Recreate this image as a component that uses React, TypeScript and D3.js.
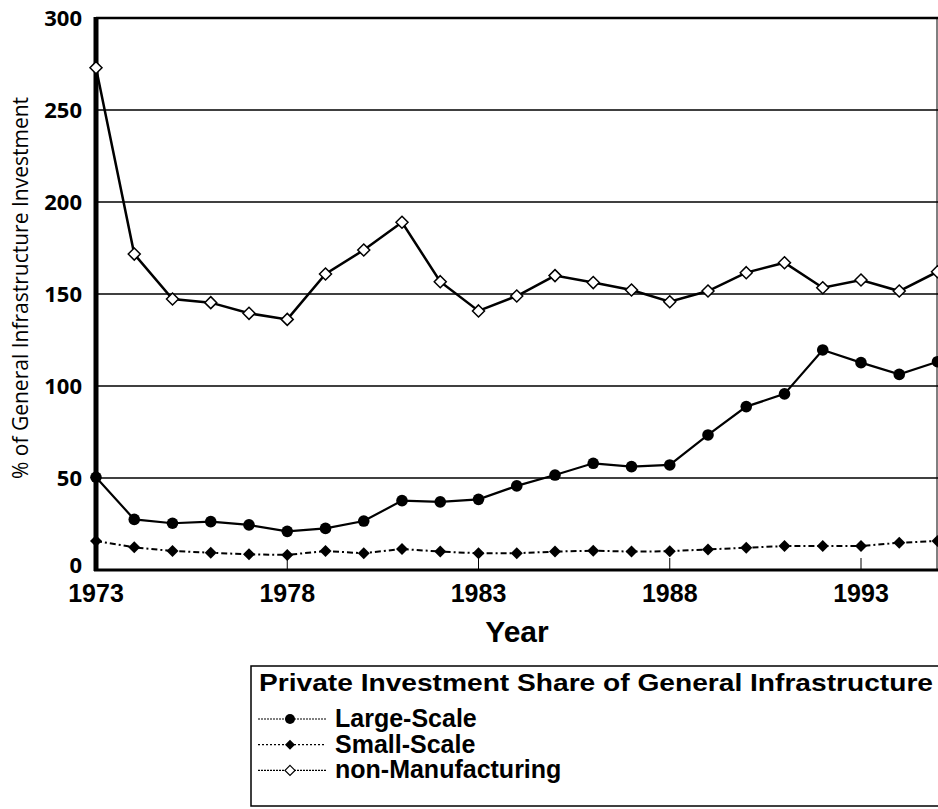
import React, { useRef, useEffect } from "react";
import * as d3 from "d3";

const years = [
  1973, 1974, 1975, 1976, 1977, 1978, 1979, 1980, 1981, 1982, 1983, 1984,
  1985, 1986, 1987, 1988, 1989, 1990, 1991, 1992, 1993, 1994, 1995,
];
const largeScale = [
  50.4, 27.5, 25.4, 26.3, 24.5, 21, 22.6, 26.6, 37.7, 37, 38.4, 45.7, 51.6, 58,
  56.2, 57.1, 73.4, 88.8, 95.7, 119.6, 112.7, 106.3, 113.2,
];
const smallScale = [
  15.8, 12.3, 10.3, 9.4, 8.5, 8.2, 10.3, 9.1, 11.4, 10, 9.1, 9.1, 10, 10.5, 10,
  10.2, 11.2, 12.1, 13, 13, 13, 14.8, 15.8,
];
const nonManufacturing = [
  273, 171.7, 147.3, 145.3, 139.5, 136.2, 160.9, 173.9, 189, 156.7, 140.8,
  148.9, 160, 156.2, 152.2, 145.8, 151.6, 161.6, 167, 153.4, 157.6, 151.6, 162.1,
];
const yTicks = [0, 50, 100, 150, 200, 250, 300];
const xTicks = [1973, 1978, 1983, 1988, 1993];
const legendTitle = "Private Investment Share of General Infrastructure";
const seriesNames = ["Large-Scale", "Small-Scale", "non-Manufacturing"];

const W = 938;
const H = 809;

const App = () => {
  const ref = useRef(null);

  useEffect(() => {
    d3.select(ref.current).selectAll("*").remove();
    const svg = d3.select(ref.current).attr("width", W).attr("height", H);

    const x = d3.scaleLinear().domain([1973, 1995]).range([96, 937.5]);
    const y = d3.scaleLinear().domain([0, 300]).range([570, 18]);

    // gridlines
    svg
      .append("g")
      .selectAll("line")
      .data(yTicks.filter((t) => t > 0))
      .enter()
      .append("line")
      .attr("x1", x(1973))
      .attr("x2", W)
      .attr("y1", (d) => y(d))
      .attr("y2", (d) => y(d))
      .attr("stroke", "#000")
      .attr("stroke-width", (d) => (d === 300 ? 2.5 : 1.5));

    // right border
    svg
      .append("line")
      .attr("x1", 937)
      .attr("x2", 937)
      .attr("y1", y(300))
      .attr("y2", y(0))
      .attr("stroke", "#000")
      .attr("stroke-width", 1);

    // x ticks (small, pointing up)
    svg
      .append("g")
      .selectAll("line")
      .data(xTicks.slice(1))
      .enter()
      .append("line")
      .attr("x1", (d) => x(d))
      .attr("x2", (d) => x(d))
      .attr("y1", y(0))
      .attr("y2", y(0) - 12)
      .attr("stroke", "#000")
      .attr("stroke-width", 1);

    // axes
    svg
      .append("line")
      .attr("x1", x(1973) - 2)
      .attr("x2", W)
      .attr("y1", y(0))
      .attr("y2", y(0))
      .attr("stroke", "#000")
      .attr("stroke-width", 3);
    svg
      .append("line")
      .attr("x1", x(1973))
      .attr("x2", x(1973))
      .attr("y1", y(300) - 1)
      .attr("y2", y(0) + 1)
      .attr("stroke", "#000")
      .attr("stroke-width", 5);

    // y tick labels
    svg
      .append("g")
      .selectAll("text")
      .data(yTicks)
      .enter()
      .append("text")
      .attr("x", 82)
      .attr("y", (d) => y(d) - (d === 0 ? 5 : 0))
      .attr("dy", "0.36em")
      .attr("text-anchor", "end")
      .style("font-family", "'Open Sans', sans-serif")
      .style("font-weight", 700)
      .style("font-size", "22px")
      .text((d) => d);

    // x tick labels
    svg
      .append("g")
      .selectAll("text")
      .data(xTicks)
      .enter()
      .append("text")
      .attr("x", (d) => x(d))
      .attr("y", 602)
      .attr("text-anchor", "middle")
      .style("font-family", "'Liberation Sans', Arial, sans-serif")
      .style("font-weight", 700)
      .style("font-size", "25px")
      .text((d) => d);

    svg
      .append("text")
      .attr("x", 517)
      .attr("y", 642)
      .attr("text-anchor", "middle")
      .style("font-family", "'Liberation Sans', Arial, sans-serif")
      .style("font-weight", 700)
      .style("font-size", "30px")
      .text("Year");

    svg
      .append("text")
      .attr("transform", "translate(28,288) rotate(-90)")
      .attr("text-anchor", "middle")
      .style("font-family", "'Open Sans', sans-serif")
      .style("font-size", "21px")
      .text("% of General Infrastructure Investment");

    const line = d3
      .line<number>()
      .x((d, i) => x(years[i]))
      .y((d) => y(d));

    const diamond = (s: number) => `M0,${-s}L${s},0L0,${s}L${-s},0Z`;

    // non-Manufacturing
    svg
      .append("path")
      .datum(nonManufacturing)
      .attr("d", line)
      .attr("fill", "none")
      .attr("stroke", "#000")
      .attr("stroke-width", 2.5);
    svg
      .append("g")
      .selectAll("path")
      .data(nonManufacturing)
      .enter()
      .append("path")
      .attr("transform", (d, i) => `translate(${x(years[i])},${y(d)})`)
      .attr("d", diamond(6))
      .attr("fill", "#fff")
      .attr("stroke", "#000")
      .attr("stroke-width", 1.5);

    // Large-Scale
    svg
      .append("path")
      .datum(largeScale)
      .attr("d", line)
      .attr("fill", "none")
      .attr("stroke", "#000")
      .attr("stroke-width", 2.2);
    svg
      .append("g")
      .selectAll("circle")
      .data(largeScale)
      .enter()
      .append("circle")
      .attr("cx", (d, i) => x(years[i]))
      .attr("cy", (d) => y(d))
      .attr("r", 5.8)
      .attr("fill", "#000");

    // Small-Scale
    svg
      .append("path")
      .datum(smallScale)
      .attr("d", line)
      .attr("fill", "none")
      .attr("stroke", "#000")
      .attr("stroke-width", 2)
      .attr("stroke-dasharray", "6 3 2 3");
    svg
      .append("g")
      .selectAll("path")
      .data(smallScale)
      .enter()
      .append("path")
      .attr("transform", (d, i) => `translate(${x(years[i])},${y(d)})`)
      .attr("d", diamond(6))
      .attr("fill", "#000");

    // legend
    const lg = svg.append("g");
    lg.append("rect")
      .attr("x", 251)
      .attr("y", 666)
      .attr("width", 720)
      .attr("height", 140)
      .attr("fill", "#fff")
      .attr("stroke", "#000")
      .attr("stroke-width", 1.5);
    lg.append("text")
      .attr("x", 259)
      .attr("y", 691)
      .style("font-family", "'Liberation Sans', Arial, sans-serif")
      .style("font-weight", 700)
      .style("font-size", "24px")
      .attr("textLength", 674)
      .attr("lengthAdjust", "spacingAndGlyphs")
      .text(legendTitle);

    const rows = lg
      .selectAll("g.row")
      .data(seriesNames)
      .enter()
      .append("g")
      .attr("class", "row")
      .attr("transform", (d, i) => `translate(0,${727 + i * 25.7})`);
    rows
      .append("line")
      .attr("x1", 258)
      .attr("x2", 326)
      .attr("y1", -8)
      .attr("y2", -8)
      .attr("stroke", "#000")
      .attr("stroke-width", 1.2)
      .attr("stroke-dasharray", (d, i) => (i === 1 ? "2 2" : "2 1"));
    rows.each(function (d, i) {
      const g = d3.select(this);
      if (i === 0) {
        g.append("circle").attr("cx", 290).attr("cy", -8).attr("r", 5).attr("fill", "#000");
      } else if (i === 1) {
        g.append("path")
          .attr("transform", "translate(290,-8)")
          .attr("d", diamond(5))
          .attr("fill", "#000");
      } else {
        g.append("path")
          .attr("transform", "translate(290,-8)")
          .attr("d", diamond(5))
          .attr("fill", "#fff")
          .attr("stroke", "#000")
          .attr("stroke-width", 1.2);
      }
    });
    rows
      .append("text")
      .attr("x", 335)
      .attr("y", 0)
      .style("font-family", "'Liberation Sans', Arial, sans-serif")
      .style("font-weight", 700)
      .style("font-size", "25px")
      .text((d) => d);
  }, []);

  return (
    <svg
      ref={ref}
      style={{ position: "absolute", left: 0, top: 0, background: "#fff" }}
    ></svg>
  );
};

export default App;
